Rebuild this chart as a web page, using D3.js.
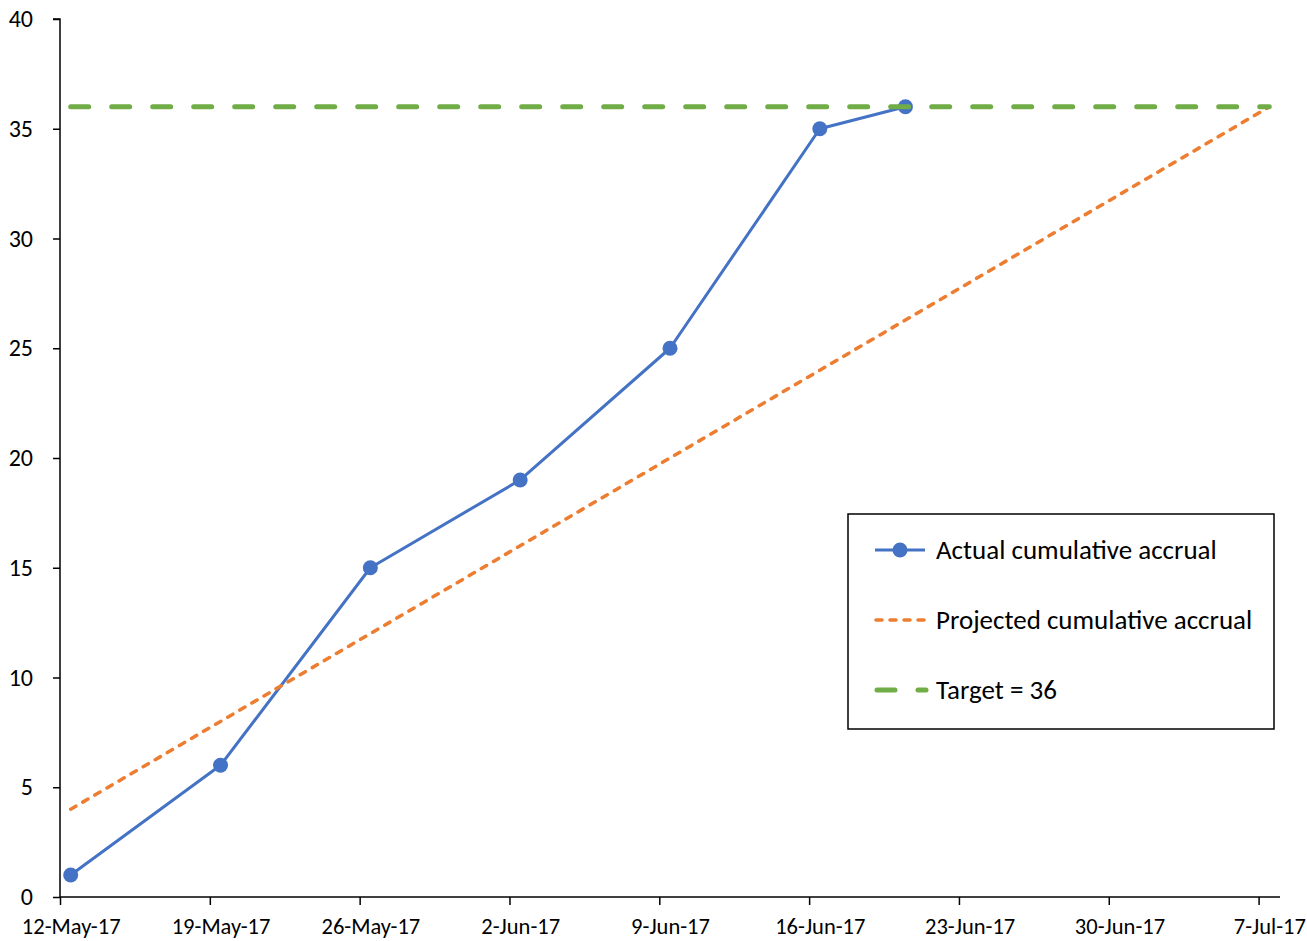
<!DOCTYPE html>
<html>
<head>
<meta charset="utf-8">
<script src="https://cdn.jsdelivr.net/npm/d3@7"></script>
<style>
  html, body { margin: 0; padding: 0; background: #fff; }
  svg { display: block; font-family: Carlito, Calibri, Lato, sans-serif; }
</style>
</head>
<body>
<svg id="chart" width="1307" height="941"></svg>
<script>
// Weekly accrual figures
const actualDates = ["2017-05-12", "2017-05-19", "2017-05-26", "2017-06-02", "2017-06-09", "2017-06-16", "2017-06-20"];
const actualValues = [1, 6, 15, 19, 25, 35, 36];

const projectedDates = ["2017-05-12", "2017-05-19", "2017-05-26", "2017-06-02", "2017-06-09", "2017-06-16", "2017-06-23", "2017-06-30", "2017-07-07"];
const projectedValues = [4, 8, 12, 16, 20, 24, 28, 32, 36];

const targetDates = ["2017-05-12", "2017-07-07"];
const targetValue = 36;

const yTicks = [0, 5, 10, 15, 20, 25, 30, 35, 40];
const legendLabels = ["Actual cumulative accrual", "Projected cumulative accrual", "Target = 36"];

const colors = { actual: "#4472C4", projected: "#ED7D31", target: "#70AD47" };

(function () {
  const parse = d3.timeParse("%Y-%m-%d");
  const HALF_DAY = 12 * 3600 * 1000;
  // each day occupies a slot on the date axis; points and labels sit in the middle of their day
  const mid = s => new Date(parse(s).getTime() + HALF_DAY);

  const svg = d3.select("#chart");
  const plotLeft = 60, plotRight = 1280, plotTop = 19, plotBottom = 897;

  const x = d3.scaleTime()
    .domain([parse("2017-05-12"), parse("2017-07-08")])
    .range([plotLeft, plotRight]);
  const y = d3.scaleLinear().domain([0, 40]).range([plotBottom, plotTop]);

  const tickDates = d3.timeDay.range(parse("2017-05-12"), parse("2017-07-08"), 7);
  const fmt = d3.timeFormat("%-d-%b-%y");
  const halfDayPx = x(mid("2017-05-12")) - x(parse("2017-05-12"));

  // Y axis
  const yAxis = svg.append("g")
    .attr("transform", `translate(${plotLeft},0)`)
    .call(d3.axisLeft(y).tickValues(yTicks).tickSize(7).tickPadding(20).tickFormat(d3.format("d")));
  yAxis.select(".domain").attr("stroke", "#000").attr("stroke-width", 1.5).attr("d", `M-7,${plotTop}H0V${plotBottom}`);
  yAxis.selectAll(".tick line").attr("stroke", "#000").attr("stroke-width", 1.5);
  yAxis.selectAll(".tick text").attr("fill", "#000").style("font-size", "24px")
    .attr("font-family", "Carlito, Calibri, Lato, sans-serif");

  // X axis
  const xAxis = svg.append("g")
    .attr("transform", `translate(0,${plotBottom})`)
    .call(d3.axisBottom(x).tickValues(tickDates).tickSize(8).tickPadding(13).tickFormat(fmt));
  xAxis.select(".domain").attr("stroke", "#000").attr("stroke-width", 1.5).attr("d", `M${plotLeft},0H${plotRight}`);
  xAxis.selectAll(".tick line").attr("stroke", "#000").attr("stroke-width", 1.5);
  xAxis.selectAll(".tick text").attr("fill", "#000").style("font-size", "22.5px")
    .attr("x", halfDayPx)
    .attr("font-family", "Carlito, Calibri, Lato, sans-serif");

  const line = d3.line().x(d => x(d[0])).y(d => y(d[1]));

  const actual = actualDates.map((d, i) => [mid(d), actualValues[i]]);
  const projected = projectedDates.map((d, i) => [mid(d), projectedValues[i]]);
  const target = targetDates.map(d => [mid(d), targetValue]);

  // Actual series
  svg.append("path").datum(actual)
    .attr("d", line).attr("fill", "none")
    .attr("stroke", colors.actual).attr("stroke-width", 3).attr("stroke-linejoin", "round");
  svg.append("g").selectAll("circle").data(actual).join("circle")
    .attr("cx", d => x(d[0])).attr("cy", d => y(d[1])).attr("r", 7.5)
    .attr("fill", colors.actual);

  // Projected series
  svg.append("path").datum(projected)
    .attr("d", line).attr("fill", "none")
    .attr("stroke", colors.projected).attr("stroke-width", 3.5)
    .attr("stroke-dasharray", "6,8").attr("stroke-linecap", "round");

  // Target line
  svg.append("path").datum(target)
    .attr("d", line).attr("fill", "none")
    .attr("stroke", colors.target).attr("stroke-width", 5)
    .attr("stroke-dasharray", "18,23").attr("stroke-linecap", "round");

  // Legend
  const lg = svg.append("g");
  lg.append("rect").attr("x", 848).attr("y", 514).attr("width", 426).attr("height", 215)
    .attr("fill", "#fff").attr("stroke", "#000").attr("stroke-width", 1.5);
  const rowsY = [550, 620, 690];
  lg.append("line").attr("x1", 875).attr("x2", 925).attr("y1", rowsY[0]).attr("y2", rowsY[0])
    .attr("stroke", colors.actual).attr("stroke-width", 3);
  lg.append("circle").attr("cx", 900).attr("cy", rowsY[0]).attr("r", 7.5).attr("fill", colors.actual);
  lg.append("line").attr("x1", 876).attr("x2", 925).attr("y1", rowsY[1]).attr("y2", rowsY[1])
    .attr("stroke", colors.projected).attr("stroke-width", 3.5)
    .attr("stroke-dasharray", "6,8").attr("stroke-linecap", "round");
  lg.append("line").attr("x1", 877).attr("x2", 926).attr("y1", rowsY[2]).attr("y2", rowsY[2])
    .attr("stroke", colors.target).attr("stroke-width", 5)
    .attr("stroke-dasharray", "18,23").attr("stroke-linecap", "round");
  lg.selectAll("text.lbl").data(legendLabels).join("text")
    .attr("class", "lbl")
    .attr("x", 936).attr("y", (d, i) => rowsY[i]).attr("dy", "0.35em")
    .style("font-size", "27px").attr("fill", "#000")
    .text(d => d);
})();
</script>
</body>
</html>
